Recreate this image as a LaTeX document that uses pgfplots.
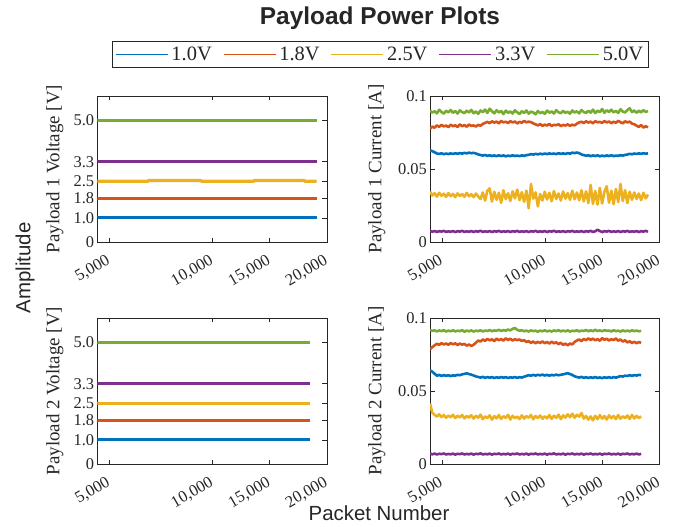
\documentclass[border=0pt]{standalone}
\usepackage{pgfplots}
\pgfplotsset{compat=1.18}
\usepackage{fontspec}
\setmainfont{Liberation Serif}
\setsansfont{Liberation Sans}
\definecolor{c1}{rgb}{0,0.447,0.741}
\definecolor{c2}{rgb}{0.851,0.325,0.098}
\definecolor{c3}{rgb}{0.929,0.694,0.125}
\definecolor{c4}{rgb}{0.494,0.184,0.557}
\definecolor{c5}{rgb}{0.467,0.675,0.188}
\definecolor{txt}{rgb}{0.15,0.15,0.15}
\pgfplotsset{
  panel/.style={
    width=229.5bp, height=146.5bp, scale only axis,
    anchor=south west,
    xmin=0, xmax=100,
    xtick={5.2,50.2,75.1,100},
    xticklabels={{5,000},{10,000},{15,000},{20,000}},
    tick pos=both, tick align=inside,
    major tick length=4.5bp,
    axis line style={draw=txt, line width=0.6bp},
    every tick/.style={draw=txt, line width=0.6bp},
    tick label style={font=\fontsize{16.5}{16.5}\selectfont, text=txt},
    xticklabel style={rotate=30, anchor=north east, xshift=-8bp, yshift=-7bp, inner sep=1bp},
    yticklabel style={inner sep=3bp},
    ylabel style={font=\fontsize{19}{19}\selectfont, text=txt, anchor=center},
    clip=true,
  },
  volt/.style={panel, ymin=0, ymax=6, ytick={0,1,1.8,2.5,3.3,5}, yticklabels={0,1.0,1.8,2.5,3.3,5.0},
    ylabel style={at={(axis description cs:-0.185,0.5)}}},
  curr/.style={panel, ymin=0, ymax=0.1, ytick={0,0.05,0.1}, yticklabels={0,0.05,0.1},
    ylabel style={at={(axis description cs:-0.232,0.5)}}},
  vline/.style={line width=3.2bp},
  cline/.style={line width=2.6bp, line join=round},
  table/ser/.style={x expr=\coordindex, y index=0, header=false, row sep=\\},
}
\begin{document}
\begin{tikzpicture}
\path[use as bounding box] (0bp,0bp) rectangle (678bp,-527bp);
% ---------------- Top left: Payload 1 Voltage
\begin{axis}[volt, at={(97.3bp,-242.3bp)}, ylabel={Payload 1 Voltage [V]},
  legend columns=5,
  legend style={at={(1.232,1.281)}, anchor=center, draw=txt, line width=0.6bp,
    font=\fontsize{20.5}{20.5}\selectfont, text=txt, inner xsep=3bp, inner ysep=3.5bp,
    /tikz/every odd column/.append style={column sep=1bp},
    /tikz/every even column/.append style={column sep=9bp}},
  legend image code/.code={\draw[#1, line width=1.6bp] (0bp,0bp) -- (52bp,0bp);},
]
\addplot[c1, vline] coordinates {(0,1.0) (95.6,1.0)};
\addplot[c2, vline] coordinates {(0,1.8) (95.6,1.8)};
\addplot[c3, vline] coordinates {(0,2.5) (22,2.5) (22.5,2.53) (45,2.53) (45.5,2.5) (68,2.5) (68.5,2.53) (90,2.53) (90.5,2.5) (95.6,2.5)};
\addplot[c4, vline] coordinates {(0,3.3) (95.6,3.3)};
\addplot[c5, vline] coordinates {(0,5.0) (95.6,5.0)};
\legend{1.0V,1.8V,2.5V,3.3V,5.0V}
\end{axis}
% ---------------- Top right: Payload 1 Current
\begin{axis}[curr, at={(430bp,-242.3bp)}, ylabel={Payload 1 Current [A]}]
\addplot[c5, cline] table[ser] {
0.0900\\ 0.0885\\ 0.0895\\ 0.0880\\ 0.0905\\ 0.0890\\ 0.0878\\ 0.0898\\ 0.0887\\ 0.0903\\
0.0884\\ 0.0896\\ 0.0879\\ 0.0901\\ 0.0889\\ 0.0882\\ 0.0899\\ 0.0886\\ 0.0904\\ 0.0881\\
0.0893\\ 0.0877\\ 0.0900\\ 0.0888\\ 0.0906\\ 0.0883\\ 0.0912\\ 0.0894\\ 0.0880\\ 0.0902\\
0.0886\\ 0.0897\\ 0.0875\\ 0.0899\\ 0.0884\\ 0.0893\\ 0.0879\\ 0.0901\\ 0.0887\\ 0.0876\\
0.0895\\ 0.0883\\ 0.0900\\ 0.0878\\ 0.0892\\ 0.0886\\ 0.0874\\ 0.0896\\ 0.0881\\ 0.0890\\
0.0877\\ 0.0899\\ 0.0885\\ 0.0893\\ 0.0879\\ 0.0902\\ 0.0887\\ 0.0881\\ 0.0897\\ 0.0884\\
0.0891\\ 0.0878\\ 0.0900\\ 0.0886\\ 0.0894\\ 0.0880\\ 0.0903\\ 0.0889\\ 0.0883\\ 0.0898\\
0.0885\\ 0.0906\\ 0.0882\\ 0.0899\\ 0.0888\\ 0.0910\\ 0.0884\\ 0.0901\\ 0.0890\\ 0.0905\\
0.0887\\ 0.0897\\ 0.0883\\ 0.0908\\ 0.0892\\ 0.0886\\ 0.0903\\ 0.0915\\ 0.0889\\ 0.0900\\
0.0884\\ 0.0898\\ 0.0887\\ 0.0902\\ 0.0890\\ 0.0896\\
};
\addplot[c2, cline] table[ser] {
0.0775\\ 0.0790\\ 0.0782\\ 0.0798\\ 0.0788\\ 0.0802\\ 0.0791\\ 0.0797\\ 0.0786\\ 0.0803\\
0.0792\\ 0.0799\\ 0.0787\\ 0.0805\\ 0.0793\\ 0.0800\\ 0.0789\\ 0.0804\\ 0.0795\\ 0.0798\\
0.0790\\ 0.0802\\ 0.0796\\ 0.0808\\ 0.0815\\ 0.0822\\ 0.0813\\ 0.0826\\ 0.0817\\ 0.0824\\
0.0812\\ 0.0828\\ 0.0819\\ 0.0823\\ 0.0814\\ 0.0827\\ 0.0818\\ 0.0825\\ 0.0811\\ 0.0822\\
0.0816\\ 0.0829\\ 0.0819\\ 0.0824\\ 0.0820\\ 0.0812\\ 0.0805\\ 0.0798\\ 0.0807\\ 0.0795\\
0.0803\\ 0.0797\\ 0.0808\\ 0.0794\\ 0.0802\\ 0.0799\\ 0.0806\\ 0.0793\\ 0.0801\\ 0.0797\\
0.0805\\ 0.0795\\ 0.0803\\ 0.0798\\ 0.0810\\ 0.0818\\ 0.0823\\ 0.0814\\ 0.0826\\ 0.0817\\
0.0824\\ 0.0812\\ 0.0827\\ 0.0819\\ 0.0822\\ 0.0815\\ 0.0828\\ 0.0818\\ 0.0825\\ 0.0813\\
0.0823\\ 0.0816\\ 0.0829\\ 0.0820\\ 0.0812\\ 0.0826\\ 0.0818\\ 0.0824\\ 0.0810\\ 0.0806\\
0.0796\\ 0.0788\\ 0.0800\\ 0.0783\\ 0.0792\\ 0.0785\\
};
\addplot[c1, cline] table[ser] {
0.0628\\ 0.0622\\ 0.0615\\ 0.0606\\ 0.0603\\ 0.0608\\ 0.0601\\ 0.0606\\ 0.0602\\ 0.0607\\
0.0603\\ 0.0608\\ 0.0604\\ 0.0609\\ 0.0605\\ 0.0611\\ 0.0607\\ 0.0612\\ 0.0608\\ 0.0611\\
0.0606\\ 0.0600\\ 0.0596\\ 0.0592\\ 0.0596\\ 0.0590\\ 0.0594\\ 0.0589\\ 0.0593\\ 0.0588\\
0.0594\\ 0.0589\\ 0.0593\\ 0.0587\\ 0.0592\\ 0.0588\\ 0.0594\\ 0.0589\\ 0.0592\\ 0.0588\\
0.0593\\ 0.0590\\ 0.0595\\ 0.0597\\ 0.0602\\ 0.0599\\ 0.0604\\ 0.0600\\ 0.0605\\ 0.0601\\
0.0606\\ 0.0602\\ 0.0607\\ 0.0603\\ 0.0606\\ 0.0602\\ 0.0608\\ 0.0604\\ 0.0607\\ 0.0603\\
0.0609\\ 0.0605\\ 0.0612\\ 0.0609\\ 0.0613\\ 0.0608\\ 0.0600\\ 0.0595\\ 0.0591\\ 0.0594\\
0.0588\\ 0.0593\\ 0.0589\\ 0.0594\\ 0.0587\\ 0.0592\\ 0.0588\\ 0.0593\\ 0.0589\\ 0.0594\\
0.0588\\ 0.0592\\ 0.0590\\ 0.0595\\ 0.0591\\ 0.0597\\ 0.0599\\ 0.0604\\ 0.0601\\ 0.0606\\
0.0603\\ 0.0607\\ 0.0604\\ 0.0608\\ 0.0605\\ 0.0607\\
};
\addplot[c3, cline] table[ser] {
0.0345\\ 0.0320\\ 0.0335\\ 0.0312\\ 0.0338\\ 0.0318\\ 0.0332\\ 0.0310\\ 0.0336\\ 0.0315\\
0.0330\\ 0.0308\\ 0.0334\\ 0.0316\\ 0.0329\\ 0.0311\\ 0.0337\\ 0.0314\\ 0.0328\\ 0.0309\\
0.0333\\ 0.0312\\ 0.0296\\ 0.0340\\ 0.0285\\ 0.0352\\ 0.0368\\ 0.0278\\ 0.0345\\ 0.0290\\
0.0338\\ 0.0270\\ 0.0355\\ 0.0295\\ 0.0335\\ 0.0282\\ 0.0348\\ 0.0300\\ 0.0360\\ 0.0288\\
0.0342\\ 0.0276\\ 0.0353\\ 0.0232\\ 0.0398\\ 0.0298\\ 0.0340\\ 0.0245\\ 0.0330\\ 0.0286\\
0.0345\\ 0.0292\\ 0.0338\\ 0.0280\\ 0.0350\\ 0.0296\\ 0.0333\\ 0.0285\\ 0.0347\\ 0.0298\\
0.0336\\ 0.0290\\ 0.0352\\ 0.0294\\ 0.0340\\ 0.0287\\ 0.0355\\ 0.0279\\ 0.0348\\ 0.0268\\
0.0392\\ 0.0262\\ 0.0350\\ 0.0258\\ 0.0372\\ 0.0265\\ 0.0345\\ 0.0383\\ 0.0270\\ 0.0352\\
0.0260\\ 0.0364\\ 0.0275\\ 0.0398\\ 0.0282\\ 0.0356\\ 0.0268\\ 0.0345\\ 0.0290\\ 0.0340\\
0.0296\\ 0.0333\\ 0.0288\\ 0.0338\\ 0.0300\\ 0.0326\\
};
\addplot[c4, cline] table[ser] {
0.0078\\ 0.0072\\ 0.0077\\ 0.0071\\ 0.0076\\ 0.0073\\ 0.0078\\ 0.0071\\ 0.0075\\ 0.0072\\
0.0077\\ 0.0070\\ 0.0076\\ 0.0073\\ 0.0078\\ 0.0071\\ 0.0075\\ 0.0072\\ 0.0077\\ 0.0070\\
0.0076\\ 0.0073\\ 0.0079\\ 0.0071\\ 0.0075\\ 0.0072\\ 0.0077\\ 0.0070\\ 0.0076\\ 0.0073\\
0.0078\\ 0.0071\\ 0.0075\\ 0.0072\\ 0.0077\\ 0.0070\\ 0.0076\\ 0.0073\\ 0.0078\\ 0.0071\\
0.0075\\ 0.0072\\ 0.0077\\ 0.0070\\ 0.0076\\ 0.0073\\ 0.0078\\ 0.0071\\ 0.0075\\ 0.0072\\
0.0077\\ 0.0070\\ 0.0076\\ 0.0073\\ 0.0079\\ 0.0071\\ 0.0075\\ 0.0072\\ 0.0077\\ 0.0070\\
0.0076\\ 0.0073\\ 0.0078\\ 0.0071\\ 0.0075\\ 0.0072\\ 0.0077\\ 0.0070\\ 0.0076\\ 0.0073\\
0.0078\\ 0.0071\\ 0.0075\\ 0.0086\\ 0.0077\\ 0.0070\\ 0.0076\\ 0.0073\\ 0.0078\\ 0.0071\\
0.0075\\ 0.0072\\ 0.0077\\ 0.0070\\ 0.0076\\ 0.0073\\ 0.0078\\ 0.0071\\ 0.0075\\ 0.0072\\
0.0077\\ 0.0070\\ 0.0076\\ 0.0073\\ 0.0078\\ 0.0072\\
};
\end{axis}
% ---------------- Bottom left: Payload 2 Voltage
\begin{axis}[volt, at={(97.3bp,-464.3bp)}, ylabel={Payload 2 Voltage [V]}]
\addplot[c1, vline] coordinates {(0,1.0) (92.7,1.0)};
\addplot[c2, vline] coordinates {(0,1.8) (92.7,1.8)};
\addplot[c3, vline] coordinates {(0,2.5) (92.7,2.5)};
\addplot[c4, vline] coordinates {(0,3.3) (92.7,3.3)};
\addplot[c5, vline] coordinates {(0,5.0) (92.7,5.0)};
\end{axis}
% ---------------- Bottom right: Payload 2 Current
\begin{axis}[curr, at={(430bp,-464.3bp)}, ylabel={Payload 2 Current [A]}]
\addplot[c5, cline] table[ser] {
0.0918\\ 0.0910\\ 0.0915\\ 0.0907\\ 0.0914\\ 0.0909\\ 0.0916\\ 0.0906\\ 0.0913\\ 0.0908\\
0.0915\\ 0.0907\\ 0.0912\\ 0.0909\\ 0.0916\\ 0.0905\\ 0.0913\\ 0.0908\\ 0.0914\\ 0.0906\\
0.0912\\ 0.0909\\ 0.0915\\ 0.0907\\ 0.0913\\ 0.0910\\ 0.0917\\ 0.0908\\ 0.0914\\ 0.0911\\
0.0918\\ 0.0910\\ 0.0916\\ 0.0912\\ 0.0920\\ 0.0914\\ 0.0925\\ 0.0930\\ 0.0918\\ 0.0912\\
0.0915\\ 0.0908\\ 0.0913\\ 0.0906\\ 0.0914\\ 0.0909\\ 0.0912\\ 0.0905\\ 0.0913\\ 0.0908\\
0.0915\\ 0.0907\\ 0.0912\\ 0.0906\\ 0.0914\\ 0.0909\\ 0.0916\\ 0.0907\\ 0.0913\\ 0.0908\\
0.0914\\ 0.0906\\ 0.0912\\ 0.0909\\ 0.0915\\ 0.0907\\ 0.0913\\ 0.0910\\ 0.0917\\ 0.0908\\
0.0915\\ 0.0909\\ 0.0918\\ 0.0910\\ 0.0914\\ 0.0908\\ 0.0916\\ 0.0911\\ 0.0913\\ 0.0907\\
0.0915\\ 0.0909\\ 0.0912\\ 0.0906\\ 0.0914\\ 0.0908\\ 0.0913\\ 0.0907\\ 0.0915\\ 0.0909\\
0.0913\\ 0.0908\\ 0.0911\\
};
\addplot[c2, cline] table[ser] {
0.0785\\ 0.0800\\ 0.0812\\ 0.0823\\ 0.0815\\ 0.0827\\ 0.0818\\ 0.0825\\ 0.0816\\ 0.0828\\
0.0819\\ 0.0826\\ 0.0814\\ 0.0824\\ 0.0817\\ 0.0822\\ 0.0810\\ 0.0818\\ 0.0808\\ 0.0816\\
0.0830\\ 0.0845\\ 0.0838\\ 0.0852\\ 0.0843\\ 0.0856\\ 0.0846\\ 0.0853\\ 0.0841\\ 0.0858\\
0.0847\\ 0.0855\\ 0.0844\\ 0.0860\\ 0.0849\\ 0.0857\\ 0.0845\\ 0.0854\\ 0.0848\\ 0.0852\\
0.0842\\ 0.0848\\ 0.0835\\ 0.0841\\ 0.0829\\ 0.0838\\ 0.0826\\ 0.0836\\ 0.0828\\ 0.0839\\
0.0827\\ 0.0835\\ 0.0824\\ 0.0837\\ 0.0826\\ 0.0833\\ 0.0820\\ 0.0830\\ 0.0815\\ 0.0824\\
0.0812\\ 0.0825\\ 0.0818\\ 0.0835\\ 0.0845\\ 0.0852\\ 0.0841\\ 0.0856\\ 0.0847\\ 0.0860\\
0.0849\\ 0.0858\\ 0.0846\\ 0.0855\\ 0.0843\\ 0.0861\\ 0.0850\\ 0.0857\\ 0.0845\\ 0.0854\\
0.0848\\ 0.0859\\ 0.0844\\ 0.0852\\ 0.0838\\ 0.0847\\ 0.0832\\ 0.0840\\ 0.0828\\ 0.0837\\
0.0826\\ 0.0835\\ 0.0829\\
};
\addplot[c1, cline] table[ser] {
0.0642\\ 0.0632\\ 0.0618\\ 0.0605\\ 0.0610\\ 0.0603\\ 0.0609\\ 0.0604\\ 0.0608\\ 0.0602\\
0.0607\\ 0.0605\\ 0.0611\\ 0.0608\\ 0.0614\\ 0.0617\\ 0.0621\\ 0.0616\\ 0.0612\\ 0.0606\\
0.0600\\ 0.0596\\ 0.0592\\ 0.0597\\ 0.0590\\ 0.0596\\ 0.0591\\ 0.0595\\ 0.0589\\ 0.0594\\
0.0590\\ 0.0596\\ 0.0591\\ 0.0595\\ 0.0589\\ 0.0594\\ 0.0591\\ 0.0596\\ 0.0590\\ 0.0595\\
0.0592\\ 0.0598\\ 0.0603\\ 0.0608\\ 0.0605\\ 0.0610\\ 0.0606\\ 0.0611\\ 0.0607\\ 0.0612\\
0.0606\\ 0.0611\\ 0.0605\\ 0.0610\\ 0.0607\\ 0.0612\\ 0.0608\\ 0.0611\\ 0.0614\\ 0.0618\\
0.0622\\ 0.0616\\ 0.0610\\ 0.0601\\ 0.0596\\ 0.0592\\ 0.0597\\ 0.0590\\ 0.0595\\ 0.0589\\
0.0594\\ 0.0590\\ 0.0596\\ 0.0589\\ 0.0593\\ 0.0588\\ 0.0594\\ 0.0590\\ 0.0595\\ 0.0589\\
0.0596\\ 0.0591\\ 0.0597\\ 0.0602\\ 0.0599\\ 0.0605\\ 0.0603\\ 0.0608\\ 0.0604\\ 0.0609\\
0.0606\\ 0.0611\\ 0.0608\\
};
\addplot[c3, cline] table[ser] {
0.0415\\ 0.0352\\ 0.0338\\ 0.0326\\ 0.0341\\ 0.0322\\ 0.0336\\ 0.0318\\ 0.0333\\ 0.0321\\
0.0338\\ 0.0315\\ 0.0332\\ 0.0320\\ 0.0337\\ 0.0313\\ 0.0330\\ 0.0319\\ 0.0335\\ 0.0312\\
0.0331\\ 0.0318\\ 0.0339\\ 0.0308\\ 0.0327\\ 0.0316\\ 0.0334\\ 0.0305\\ 0.0329\\ 0.0314\\
0.0336\\ 0.0310\\ 0.0328\\ 0.0317\\ 0.0338\\ 0.0306\\ 0.0331\\ 0.0315\\ 0.0326\\ 0.0309\\
0.0334\\ 0.0312\\ 0.0329\\ 0.0318\\ 0.0337\\ 0.0307\\ 0.0330\\ 0.0316\\ 0.0333\\ 0.0311\\
0.0328\\ 0.0314\\ 0.0336\\ 0.0310\\ 0.0332\\ 0.0317\\ 0.0339\\ 0.0308\\ 0.0334\\ 0.0319\\
0.0341\\ 0.0322\\ 0.0345\\ 0.0318\\ 0.0338\\ 0.0325\\ 0.0350\\ 0.0312\\ 0.0330\\ 0.0305\\
0.0327\\ 0.0300\\ 0.0331\\ 0.0308\\ 0.0336\\ 0.0312\\ 0.0329\\ 0.0306\\ 0.0334\\ 0.0314\\
0.0330\\ 0.0308\\ 0.0336\\ 0.0311\\ 0.0328\\ 0.0315\\ 0.0333\\ 0.0309\\ 0.0337\\ 0.0313\\
0.0331\\ 0.0316\\ 0.0327\\
};
\addplot[c4, cline] table[ser] {
0.0074\\ 0.0068\\ 0.0073\\ 0.0067\\ 0.0072\\ 0.0069\\ 0.0074\\ 0.0067\\ 0.0071\\ 0.0068\\
0.0073\\ 0.0066\\ 0.0072\\ 0.0069\\ 0.0074\\ 0.0067\\ 0.0071\\ 0.0068\\ 0.0073\\ 0.0066\\
0.0072\\ 0.0069\\ 0.0075\\ 0.0067\\ 0.0071\\ 0.0068\\ 0.0073\\ 0.0066\\ 0.0072\\ 0.0069\\
0.0074\\ 0.0067\\ 0.0071\\ 0.0068\\ 0.0073\\ 0.0066\\ 0.0072\\ 0.0069\\ 0.0074\\ 0.0067\\
0.0071\\ 0.0068\\ 0.0073\\ 0.0066\\ 0.0072\\ 0.0069\\ 0.0074\\ 0.0067\\ 0.0071\\ 0.0068\\
0.0073\\ 0.0066\\ 0.0072\\ 0.0069\\ 0.0075\\ 0.0067\\ 0.0071\\ 0.0068\\ 0.0073\\ 0.0066\\
0.0072\\ 0.0069\\ 0.0074\\ 0.0067\\ 0.0071\\ 0.0068\\ 0.0073\\ 0.0066\\ 0.0072\\ 0.0069\\
0.0074\\ 0.0067\\ 0.0071\\ 0.0068\\ 0.0073\\ 0.0066\\ 0.0072\\ 0.0069\\ 0.0074\\ 0.0067\\
0.0071\\ 0.0068\\ 0.0073\\ 0.0066\\ 0.0072\\ 0.0069\\ 0.0074\\ 0.0067\\ 0.0071\\ 0.0068\\
0.0073\\ 0.0067\\ 0.0072\\
};
\end{axis}
% ---------------- Figure-level texts
\node[font=\sffamily\bfseries\fontsize{24.5}{24.5}\selectfont, text=txt] at (380bp,-18bp) {Payload Power Plots};
\node[font=\sffamily\fontsize{20.5}{20.5}\selectfont, text=txt, rotate=90] at (25bp,-268bp) {Amplitude};
\node[font=\sffamily\fontsize{20.5}{20.5}\selectfont, text=txt] at (379bp,-513bp) {Packet Number};
\end{tikzpicture}
\end{document}
